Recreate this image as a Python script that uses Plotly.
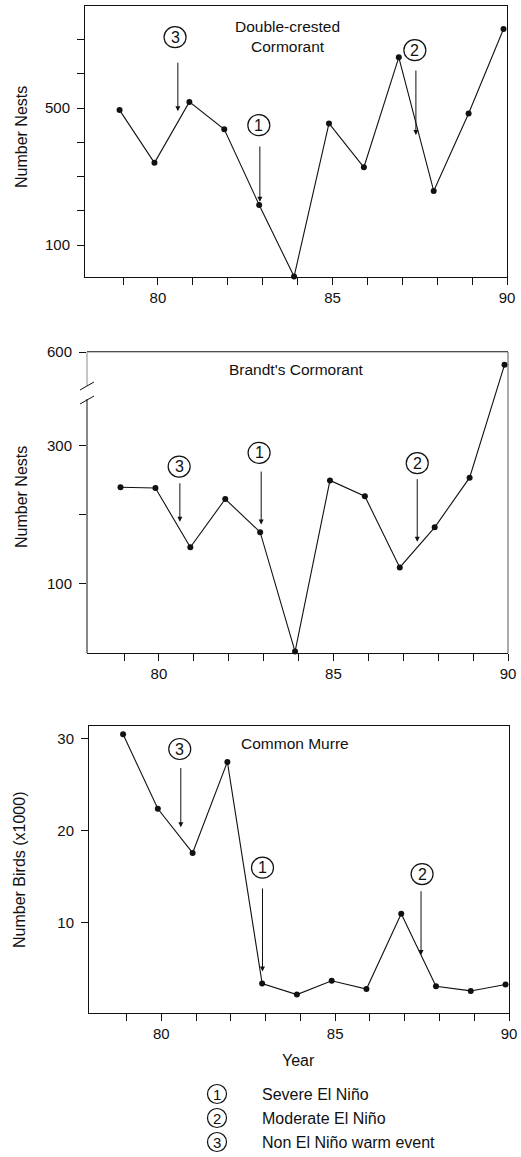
import plotly.graph_objects as go

# ---------------- data ----------------
years = list(range(79, 91))
dcco_nests = [494, 340, 518, 438, 217, 8, 455, 327, 648, 258, 484, 731]
brac_nests = [240, 239, 153, 223, 175, 2, 250, 227, 124, 182, 254, 527]
comu_birds = [30.5, 22.4, 17.6, 27.5, 3.4, 2.2, 3.7, 2.8, 11.0, 3.1, 2.6, 3.3]

x_tickvals = years
x_ticktext = ["80" if y == 80 else "85" if y == 85 else "90" if y == 90 else "" for y in years]

dcco_tickvals = [100, 200, 300, 400, 500, 600, 700]
dcco_ticktext = ["100", "", "", "", "500", "", ""]
brac_tickvals = [100, 200, 300, 600]
brac_ticktext = ["100", "", "300", "600"]
comu_tickvals = [10, 20, 30]
comu_ticktext = ["10", "20", "30"]

# event markers: label, circle (year, value), arrow year, arrow tail value, arrow head value
dcco_events = [("3", 80.49, 707, 80.57, 637, 491),
               ("1", 82.89, 450, 82.92, 392, 226),
               ("2", 87.36, 669, 87.39, 614, 421)]
brac_events = [("3", 80.58, 270, 80.60, 248, 190),
               ("1", 82.87, 290, 82.93, 265, 186),
               ("2", 87.40, 275, 87.40, 254, 161)]
comu_events = [("3", 80.53, 28.9, 80.56, 27.0, 20.4),
               ("1", 82.91, 16.0, 82.91, 13.9, 4.7),
               ("2", 87.50, 15.3, 87.47, 13.6, 6.5)]

legend_nums = ["1", "2", "3"]
legend_texts = ["Severe El Niño", "Moderate El Niño", "Non El Niño warm event"]

# ---------------- layout helpers ----------------
W, H = 521, 1157
FONT = "Liberation Sans, Arial, Helvetica, sans-serif"
INK = "#111111"
YEAR_SHIFT = -0.1  # survey points plotted slightly before the year tick

# broken axis for Brandt's Cormorant (compressed above the break)
BREAK_LO = 380
BREAK_K = 0.2545


def brac_scale(v):
    return v if v <= BREAK_LO else BREAK_LO + (v - BREAK_LO) * BREAK_K


def fx(p):
    return p / W


def fy(p):
    return 1 - p / H


xs = [y + YEAR_SHIFT for y in years]

fig = go.Figure()
line_style = dict(color=INK, width=1.1)
marker_style = dict(color=INK, size=6)

fig.add_trace(go.Scatter(x=xs, y=dcco_nests, mode="lines+markers", line=line_style,
                         marker=marker_style, xaxis="x", yaxis="y", showlegend=False, cliponaxis=False))
fig.add_trace(go.Scatter(x=xs, y=[brac_scale(v) for v in brac_nests], mode="lines+markers",
                         line=line_style, marker=marker_style, xaxis="x2", yaxis="y2",
                         showlegend=False, cliponaxis=False))
fig.add_trace(go.Scatter(x=xs, y=comu_birds, mode="lines+markers", line=line_style,
                         marker=marker_style, xaxis="x3", yaxis="y3", showlegend=False, cliponaxis=False))

tickfont = dict(family=FONT, size=15, color=INK)


def xaxis(dom, anchor, rng):
    return dict(domain=dom, anchor=anchor, range=rng, tickvals=x_tickvals, ticktext=x_ticktext,
                ticks="outside", ticklen=7, tickwidth=1, tickcolor=INK, showline=True,
                linecolor=INK, linewidth=1, mirror=True, showgrid=False, zeroline=False,
                tickfont=tickfont, fixedrange=True, automargin=False)


def yaxis(dom, anchor, rng, tv, tt, showline=True):
    return dict(domain=dom, anchor=anchor, range=rng, tickvals=tv, ticktext=tt,
                ticks="outside", ticklen=7, tickwidth=1, tickcolor=INK, showline=showline,
                linecolor=INK, linewidth=1, mirror=showline, showgrid=False, zeroline=False,
                tickfont=tickfont, ticklabelstandoff=4, fixedrange=True, automargin=False)


fig.update_layout(
    template="none",
    width=W, height=H, margin=dict(l=0, r=0, t=0, b=0, pad=0, autoexpand=False),
    paper_bgcolor="white", plot_bgcolor="white",
    font=dict(family=FONT, color=INK, size=15),
    xaxis=xaxis([fx(85), fx(507)], "y", [77.91, 90.0]),
    yaxis=yaxis([fy(277), fy(6)], "x", [6.6, 798], dcco_tickvals, dcco_ticktext),
    xaxis2=xaxis([fx(87), fx(508)], "y2", [77.94, 90.0]),
    yaxis2=yaxis([fy(653), fy(352)], "x2", [0, brac_scale(600)],
                 [brac_scale(v) for v in brac_tickvals], brac_ticktext, showline=False),
    xaxis3=xaxis([fx(89), fx(509)], "y3", [77.92, 90.0]),
    yaxis3=yaxis([fy(1013), fy(726)], "x3", [0.2, 31.4], comu_tickvals, comu_ticktext),
)

shapes = []
annotations = []

# middle panel frame with broken left axis
mid_left, mid_right, mid_top, mid_bot = 87, 508, 352, 653
frame = [
    (mid_left, mid_top, mid_right, mid_top, "#8a8a8a"),
    (mid_right, mid_top, mid_right, mid_bot, "#555"),
    (mid_left, mid_top, mid_left, 386, "#8a8a8a"),
    (mid_left, 399, mid_left, mid_bot, INK),
    (80, 390, 94, 382, INK),
    (80, 404, 94, 396, INK),
]
for x0, y0, x1, y1, c in frame:
    shapes.append(dict(type="line", xref="paper", yref="paper", x0=fx(x0), y0=fy(y0),
                       x1=fx(x1), y1=fy(y1), line=dict(color=c, width=1)))


def add_events(events, xr, yr, scale=lambda v: v):
    for lab, cx, cy, axx, tail, head in events:
        shapes.append(dict(type="circle", xref=xr, yref=yr, xsizemode="pixel", ysizemode="pixel",
                           xanchor=cx, yanchor=scale(cy), x0=-11, x1=11, y0=-10.5, y1=10.5,
                           line=dict(color=INK, width=1.2)))
        annotations.append(dict(x=cx, y=scale(cy), xref=xr, yref=yr, text=lab, showarrow=False,
                                font=dict(size=16, color=INK), xanchor="center", yanchor="middle"))
        annotations.append(dict(x=axx, y=scale(head), ax=axx, ay=scale(tail), xref=xr, yref=yr,
                                axref=xr, ayref=yr, text="", showarrow=True, arrowhead=2,
                                arrowsize=1, arrowwidth=1, arrowcolor=INK, standoff=0,
                                startstandoff=0))


add_events(dcco_events, "x", "y")
add_events(brac_events, "x2", "y2", brac_scale)
add_events(comu_events, "x3", "y3")

# panel titles
annotations.append(dict(x=fx(287), y=fy(37), xref="paper", yref="paper",
                        text="Double-crested<br>Cormorant", showarrow=False,
                        font=dict(size=15.5), align="center", xanchor="center", yanchor="middle"))
annotations.append(dict(x=fx(296), y=fy(370), xref="paper", yref="paper",
                        text="Brandt's Cormorant", showarrow=False, font=dict(size=15.5),
                        xanchor="center", yanchor="middle"))
annotations.append(dict(x=fx(295), y=fy(743), xref="paper", yref="paper",
                        text="Common Murre", showarrow=False, font=dict(size=15.5),
                        xanchor="center", yanchor="middle"))

# y titles
for txt, xp, yp in [("Number Nests", 21, 137), ("Number Nests", 21, 497),
                    ("Number Birds (x1000)", 19, 870)]:
    annotations.append(dict(x=fx(xp), y=fy(yp), xref="paper", yref="paper", text=txt,
                            textangle=-90, showarrow=False, font=dict(size=16),
                            xanchor="center", yanchor="middle"))

# x title
annotations.append(dict(x=fx(298), y=fy(1060), xref="paper", yref="paper", text="Year",
                        showarrow=False, font=dict(size=16), xanchor="center", yanchor="middle"))

# key
for i, (num, txt) in enumerate(zip(legend_nums, legend_texts)):
    yp = 1094 + 24 * i
    shapes.append(dict(type="circle", xref="paper", yref="paper", xsizemode="pixel",
                       ysizemode="pixel", xanchor=fx(217), yanchor=fy(yp), x0=-9.5, x1=9.5,
                       y0=-9.5, y1=9.5, line=dict(color=INK, width=1.2)))
    annotations.append(dict(x=fx(217), y=fy(yp), xref="paper", yref="paper", text=num,
                            showarrow=False, font=dict(size=15), xanchor="center",
                            yanchor="middle"))
    annotations.append(dict(x=fx(260), y=fy(yp), xref="paper", yref="paper", text=txt,
                            showarrow=False, font=dict(size=16), xanchor="left",
                            yanchor="middle"))

fig.update_layout(shapes=shapes, annotations=annotations)
fig.write_html("out.html", config={"displayModeBar": False},
               post_script="document.body.style.margin='0';document.body.style.padding='0';"
                           "document.documentElement.style.overflow='hidden';")
